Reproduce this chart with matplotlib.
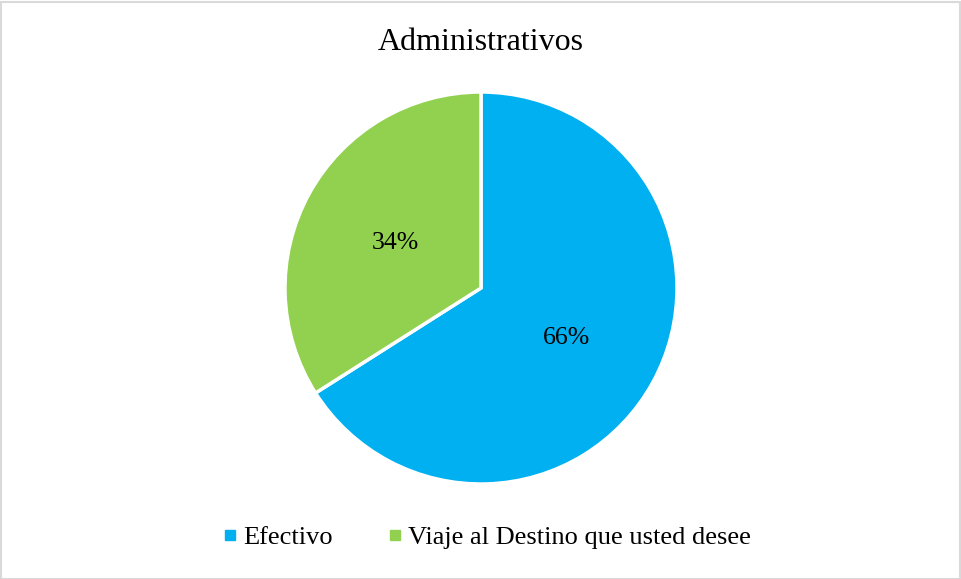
import matplotlib
matplotlib.use("Agg")
import matplotlib.pyplot as plt
from matplotlib.patches import Rectangle
from matplotlib.lines import Line2D

categories = ["Efectivo", "Viaje al Destino que usted desee"]
values = [66, 34]
colors = ["#00B0F0", "#92D050"]
title = "Administrativos"

plt.rcParams["font.family"] = ["Liberation Serif", "DejaVu Serif"]

W, H = 961, 579
fig = plt.figure(figsize=(W / 100, H / 100), dpi=100)

# outer frame
fig.patches.append(Rectangle((0.5 / W, 0.5 / H), 1 - 2 / W, 1 - 2 / H,
                             transform=fig.transFigure, fill=False,
                             edgecolor="#d9d9d9", linewidth=1.5))

cx, cy, r = 481, 288, 196
ax = fig.add_axes([(cx - r) / W, (H - cy - r) / H, 2 * r / W, 2 * r / H])
wedges, texts, autotexts = ax.pie(
    values, colors=colors, startangle=90, counterclock=False,
    autopct=lambda p: f"{p:.0f}%", pctdistance=0.5, radius=1,
    wedgeprops=dict(edgecolor="white", linewidth=2.5),
    textprops=dict(fontsize=18.5, color="#000000"))
for t in autotexts:
    t.set_va("center_baseline")
ax.set_xlim(-1, 1)
ax.set_ylim(-1, 1)
ax.set_aspect("equal")
ax.axis("off")

fig.text(0.5, (H - 42) / H, title, ha="center", va="center", fontsize=23)

handles = [Line2D([], [], marker="s", linestyle="none", markersize=7,
                  markerfacecolor=c, markeredgecolor=c) for c in colors]
fig.legend(handles, categories, loc="center", bbox_to_anchor=(486 / W, (H - 537) / H),
           ncol=2, frameon=False, fontsize=19, handletextpad=0.15,
           columnspacing=2.0, handlelength=0.7)

fig.savefig("out.png", dpi=100)
